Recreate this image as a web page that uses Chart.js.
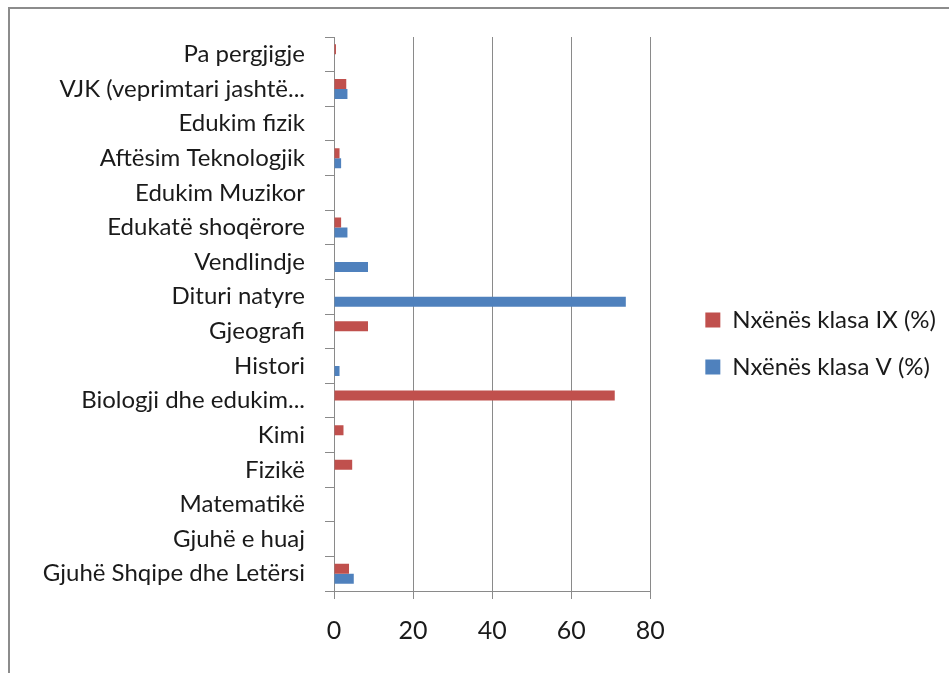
<!DOCTYPE html>
<html>
<head>
<meta charset="utf-8">
<script src="https://cdn.jsdelivr.net/npm/chart.js@4.4.1/dist/chart.umd.min.js"></script>
<style>
  html, body { margin: 0; padding: 0; background: #ffffff; }
  #wrap { position: relative; width: 949px; height: 673px; overflow: hidden; }
  #frame { position: absolute; left: 8px; top: 7px; width: 1000px; height: 1000px;
           border-top: 2px solid #8c8c8c; border-left: 2px solid #8c8c8c; box-sizing: border-box; }
  canvas { position: absolute; left: 0; top: 0; }
</style>
</head>
<body>
<div id="wrap">
  <div id="frame"></div>
  <canvas id="c" width="949" height="673"></canvas>
</div>
<script>
const categories = [
  "Pa pergjigje",
  "VJK (veprimtari jashtë...",
  "Edukim fizik",
  "Aftësim Teknologjik",
  "Edukim Muzikor",
  "Edukatë shoqërore",
  "Vendlindje",
  "Dituri natyre",
  "Gjeografi",
  "Histori",
  "Biologji dhe edukim...",
  "Kimi",
  "Fizikë",
  "Matematikë",
  "Gjuhë e huaj",
  "Gjuhë Shqipe dhe Letërsi"
];
const seriesNames = ["Nxënës klasa IX (%)", "Nxënës klasa V (%)"];
const klasaIX = [0.5, 3.1, 0, 1.4, 0, 1.8, 0, 0, 8.6, 0, 71.0, 2.4, 4.6, 0, 0, 3.8];
const klasaV  = [0, 3.4, 0, 1.8, 0, 3.4, 8.6, 73.8, 0, 1.4, 0, 0, 0, 0, 0, 5.0];
const xTicks = [0, 20, 40, 60, 80];

Chart.defaults.font.family = "Lato";
Chart.defaults.font.size = 24;
Chart.defaults.color = "#1a1a1a";

new Chart(document.getElementById("c"), {
  type: "bar",
  data: {
    labels: categories,
    datasets: [
      { label: seriesNames[0], data: klasaIX, backgroundColor: "#C0504D", borderWidth: 0 },
      { label: seriesNames[1], data: klasaV, backgroundColor: "#4F81BD", borderWidth: 0 }
    ]
  },
  options: {
    indexAxis: "y",
    responsive: false,
    animation: false,
    events: [],
    categoryPercentage: 0.58,
    barPercentage: 1.0,
    layout: { padding: { left: 0, top: 37, bottom: 23, right: 3 } },
    plugins: {
      tooltip: { enabled: false },
      legend: {
        position: "right",
        align: "center",
        maxWidth: 400,
        labels: { boxWidth: 15, boxHeight: 15, padding: 23, font: { size: 24 } }
      }
    },
    scales: {
      x: {
        min: 0, max: 80,
        afterBuildTicks: s => { s.ticks = xTicks.map(v => ({ value: v })); },
        afterFit: s => { s.height = 59; },
        grid: { color: "#8a8a8a", lineWidth: 1, tickLength: 8, drawTicks: true },
        border: { color: "#8a8a8a", width: 1 },
        ticks: { padding: 17, font: { size: 25 } }
      },
      y: {
        afterFit: s => { s.width = 334; },
        grid: { display: true, drawOnChartArea: false, offset: true, color: "#8a8a8a", tickLength: 9 },
        border: { color: "#8a8a8a", width: 1 },
        ticks: { padding: 20, font: { size: 24 }, autoSkip: false }
      },
      spacer: {
        type: "category",
        position: "right",
        labels: [""],
        grid: { display: false, drawTicks: false },
        border: { display: false },
        ticks: { display: false },
        afterFit: s => { s.width = 32; }
      }
    }
  }
});
</script>
</body>
</html>
